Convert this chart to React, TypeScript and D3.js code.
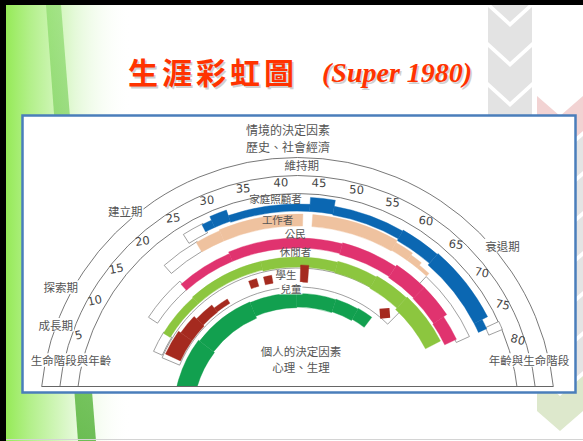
import React from "react";
import * as d3 from "d3";

// ---- values ----
const ageTicks = [5, 10, 15, 20, 25, 30, 35, 40, 45, 50, 55, 60, 65, 70, 75, 80];

const stageNames = ["成長期", "探索期", "建立期", "維持期", "衰退期"];
const stageLabelAges = [5.2, 9.4, 20.8, 42.7, 69];

const roleNames = ["家庭照顧者", "工作者", "公民", "休閒者", "學生", "兒童"];
const roleLabelAges = [39.1, 39.1, 41.8, 41.8, 39.7, 40.6];

// [from age, to age, low, high] — low/high: 0 = inner edge of the role band, 1 = outer edge
const homemakerFill = [
  [28, 29.5, 0.19, 0.57],
  [29.5, 32, 0.19, 0.76],
  [32, 44, 0.14, 0.48],
  [44, 47.5, 0.14, 0.81],
  [47.5, 58, 0.1, 0.52],
  [58, 64, 0, 0.57],
  [64, 75.5, -0.1, 0.62],
  [75.5, 77, -0.1, 0.33],
];
const workerFill = [
  [26, 30, 0, 0.92],
  [30, 43, 0, 1],
  [44.5, 58, 0, 1],
  [58, 61, 0.05, 0.8],
  [61, 63, 0.05, 0.6],
  [63, 65, 0.05, 0.35],
];
const citizenFill = [
  [20, 30, 0.08, 0.42],
  [30, 50, 0.08, 0.5],
  [50, 60, 0.04, 0.54],
  [60, 66, 0, 0.62],
  [66, 72, -0.04, 0.62],
  [72, 76.5, -0.08, 0.46],
];
const leisureFill = [
  [11, 20, 0.16, 0.58],
  [20, 35, 0.16, 0.63],
  [35, 50, 0.1, 0.63],
  [50, 58, 0.05, 0.68],
  [58, 65, 0, 0.74],
  [65, 75.5, -0.1, 0.79],
];
const studentFill = [
  [7.5, 13, 0.05, 0.92],
  [13, 17.5, 0.05, 0.78],
  [17.5, 22, 0.12, 0.6],
  [22, 25.6, 0.14, 0.4],
  [31.5, 33.3, 0.34, 0.76],
  [34.8, 36.6, 0.32, 0.74],
  [42.8, 44.5, 0.26, 1.16],
];
const childFill = [
  [-8, 14, 0, 0.91],
  [14, 30, 0.05, 0.85],
  [30, 42, 0.15, 0.82],
  [42, 52, 0.18, 0.8],
  [52, 58, 0.22, 0.82],
  [58, 62, 0.28, 0.85],
];

// spans where a role is open but not filled (outlined white band)
const homemakerOpen = [[25, 28.2, 0.1, 0.6], [76.8, 78, 0.3, 1]];
const workerOpen = [[20, 26.2, 0.05, 0.95]];
const citizenOpen = [[12, 20.2, 0.1, 0.55], [65, 77, 0.4, 1]];
const leisureOpen = [[7, 11.2, 0.1, 0.6]];
const studentOpen = [[6.5, 66, 0, 1]];
const childOpen: number[][] = [];

const studentMarkAge = 63.8;
const studentMarkLevel = 0.32;

// ---- layout ----
const W = 583;
const H = 441;
const CX = 297.5;
const CY = 415;
const BASE = 386.5;
const R_A = 257.5;
const R_B = 239.5;
const R_C = 221.5;
const R_NUM = 233;
const stageLabelR = [258, 269, 267, 250, 266];
const roleBands = [[201, 222], [189, 201], [165, 189], [146, 165], [128, 147], [104, 126]];
const roleLabelR = [218, 197, 182, 164, 141, 127];
const roleColors = ["#0b67b2", "#efc29f", "#e0336f", "#8cc63f", "#a52a1f", "#12a04f"];
const roleFills = [homemakerFill, workerFill, citizenFill, leisureFill, studentFill, childFill];
const roleOpens = [homemakerOpen, workerOpen, citizenOpen, leisureOpen, studentOpen, childOpen];

const CJK = "'Noto Sans CJK TC', 'Noto Sans CJK SC', sans-serif";
const GREY = "#555";

const rad = (deg: number) => (deg * Math.PI) / 180;
const ageAngle = d3.scaleLinear().domain([0, 80]).range([rad(10.7 - 90), rad(161.1 - 90)]);
const polar = (age: number, r: number) => {
  const a = ageAngle(age);
  return [r * Math.sin(a), -r * Math.cos(a)];
};

const arcGen = d3.arc<any>();

function bandPath(band: number[], s: number[]) {
  const lvl = d3.scaleLinear().domain([0, 1]).range(band);
  return arcGen({
    innerRadius: lvl(s[2]),
    outerRadius: lvl(s[3]),
    startAngle: ageAngle(s[0]),
    endAngle: ageAngle(s[1]),
  }) as string;
}

function chevron(x0: number, x1: number, y: number) {
  const xm = (x0 + x1) / 2;
  return [
    [x0, y], [xm, y + 20], [x1, y], [x1, y + 35], [xm, y + 55], [x0, y + 35],
  ].map((p) => p.join(",")).join(" ");
}

function Label({ x, y, text, size, bg }: any) {
  const w = text.length * size + 2;
  return (
    <g>
      {bg && <rect x={x - w / 2} y={y - size / 2 - 1} width={w} height={size + 2} fill="#fff" />}
      <text x={x} y={y} fontSize={size} fill={GREY} textAnchor="middle" dominantBaseline="central">
        {text}
      </text>
    </g>
  );
}

export default function App() {
  const baseHalf = Math.sqrt(R_A * R_A - (CY - BASE) * (CY - BASE));
  const col1 = [-33, 7, 47, 87];
  const col2 = d3.range(8).map((i) => 96 + i * 40);
  const col2Color = (i: number) => (i === 0 ? "#f2d3d3" : i === 7 ? "#dde8cc" : "#e4e4e4");

  const [dmx, dmy] = polar(studentMarkAge, d3.scaleLinear().domain([0, 1]).range(roleBands[4])(studentMarkLevel));
  const dmRot = (ageAngle(studentMarkAge) * 180) / Math.PI;

  return (
    <svg
      width={W}
      height={H}
      style={{ position: "absolute", left: 0, top: 0, display: "block" }}
      fontFamily={CJK}
    >
      <defs>
        <linearGradient id="leftGreen" x1="0" x2="1" y1="0" y2="0">
          <stop offset="0" stopColor="#96ea58" />
          <stop offset="0.2" stopColor="#b4f08c" />
          <stop offset="0.55" stopColor="#e4f9d8" />
          <stop offset="1" stopColor="#ffffff" stopOpacity="0" />
        </linearGradient>
        <linearGradient id="stripe" x1="0" x2="0" y1="0" y2="1">
          <stop offset="0" stopColor="#7cd45a" stopOpacity="0.55" />
          <stop offset="1" stopColor="#4cae30" stopOpacity="0.8" />
        </linearGradient>
        <clipPath id="above">
          <rect x={-CX} y={-CY} width={W} height={BASE} />
        </clipPath>
      </defs>

      <rect width={W} height={H} fill="#fff" />

      {/* slide decoration */}
      <rect x={6} y={5} width={125} height={H - 5} fill="url(#leftGreen)" />
      <polygon points="46,5 61,5 96,441 78,441" fill="url(#stripe)" />
      {col1.map((y) => (
        <polygon key={"c1" + y} points={chevron(488, 532, y)} fill="#e3e3e3" />
      ))}
      {col2.map((y, i) => (
        <polygon key={"c2" + y} points={chevron(537, 583, y)} fill={col2Color(i)} />
      ))}
      <rect x={0} y={0} width={W} height={5} fill="#000" />
      <rect x={0} y={0} width={6} height={H} fill="#000" />
      <line x1={6} x2={W} y1={439.5} y2={439.5} stroke="#d4d4d4" />

      {/* title */}
      <text x={129.5} y={85.5} fontSize={30} fontWeight={700} fill="#999" opacity={0.45} letterSpacing={4}>
        生涯彩虹圖
      </text>
      <text x={128} y={84} fontSize={30} fontWeight={700} fill="#ff3300" letterSpacing={4}>
        生涯彩虹圖
      </text>
      <text
        x={323.5}
        y={83.5}
        fontSize={28}
        fontWeight={700}
        fontStyle="italic"
        fontFamily="'Liberation Serif', serif"
        fill="#999"
        opacity={0.45}
      >
        (Super 1980)
      </text>
      <text
        x={322}
        y={82}
        fontSize={28}
        fontWeight={700}
        fontStyle="italic"
        fontFamily="'Liberation Serif', serif"
        fill="#ff3300"
      >
        (Super 1980)
      </text>

      {/* chart frame */}
      <rect x={22.5} y={115.5} width={553} height={277} fill="#fff" stroke="#4a7ebb" strokeWidth={2.5} />

      <g transform={`translate(${CX},${CY})`}>
        <g clipPath="url(#above)">
          {[R_A, R_B, R_C].map((r) => (
            <circle key={r} r={r} fill="none" stroke={GREY} strokeWidth={0.8} />
          ))}
          {roleOpens.map((list, i) =>
            list.map((s, j) => (
              <path
                key={"o" + i + "-" + j}
                d={bandPath(roleBands[i], s)}
                fill="#fff"
                stroke="#777"
                strokeWidth={0.7}
              />
            ))
          )}
          {roleFills.map((list, i) =>
            list.map((s, j) => (
              <path
                key={"f" + i + "-" + j}
                d={bandPath(roleBands[i], s)}
                fill={roleColors[i]}
                stroke={roleColors[i]}
                strokeWidth={0.4}
              />
            ))
          )}
        </g>
        <line x1={-baseHalf} x2={baseHalf} y1={BASE - CY} y2={BASE - CY} stroke="#666" strokeWidth={1} />

        {/* student mark */}
        <rect
          x={dmx - 5}
          y={dmy - 5}
          width={10}
          height={10}
          fill={roleColors[4]}
          transform={`rotate(${dmRot + 45},${dmx},${dmy})`}
        />

        {/* age numbers */}
        {ageTicks.map((a) => {
          const [x, y] = polar(a, R_NUM);
          const rot = ((ageAngle(a) * 180) / Math.PI) * 0.2;
          return (
            <text
              key={a}
              x={x}
              y={y}
              fontSize={11.5}
              fontFamily="'DejaVu Sans', sans-serif"
              fill="#444"
              textAnchor="middle"
              dominantBaseline="central"
              transform={`rotate(${rot},${x},${y})`}
            >
              {a}
            </text>
          );
        })}

        {/* life stages */}
        {stageNames.map((n, i) => {
          const [x, y] = polar(stageLabelAges[i], stageLabelR[i]);
          return <Label key={n} x={x} y={y} text={n} size={11.5} bg={i !== 3} />;
        })}

        {/* roles */}
        {roleNames.map((n, i) => {
          const [x, y] = polar(roleLabelAges[i], roleLabelR[i]);
          return <Label key={n} x={x} y={y} text={n} size={10.5} bg={i === 5} />;
        })}

        <Label x={71 - CX} y={360 - CY} text="生命階段與年齡" size={11.5} bg />
        <Label x={529 - CX} y={360 - CY} text="年齡與生命階段" size={11.5} bg />
        <Label x={288 - CX} y={129 - CY} text="情境的決定因素" size={12} />
        <Label x={288 - CX} y={146 - CY} text="歷史、社會經濟" size={12} />
        <Label x={301 - CX} y={351 - CY} text="個人的決定因素" size={11.5} />
        <Label x={301 - CX} y={367 - CY} text="心理、生理" size={11.5} />
      </g>
    </svg>
  );
}
